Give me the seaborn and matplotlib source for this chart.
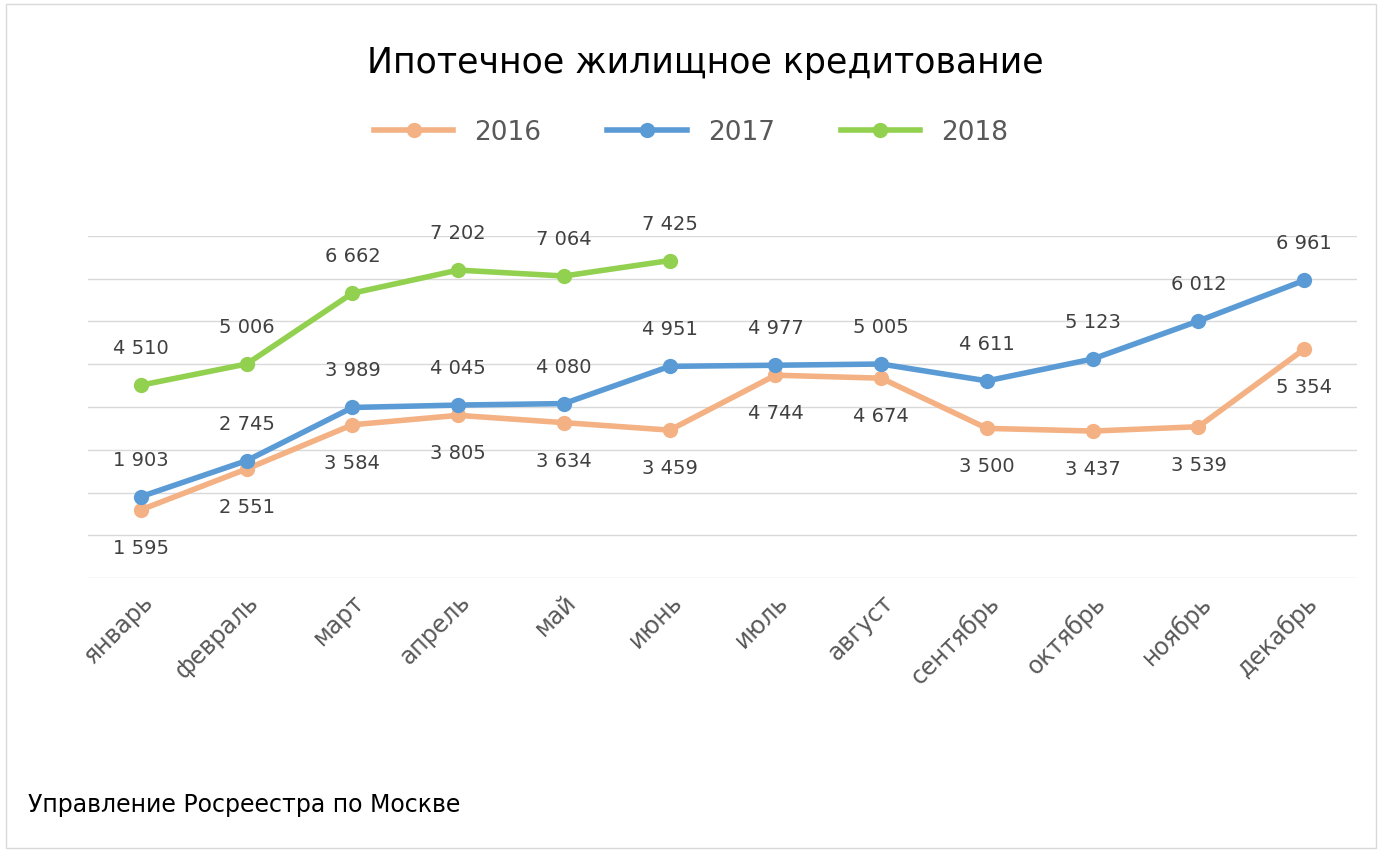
import matplotlib
matplotlib.use("Agg")
import matplotlib.pyplot as plt
import seaborn as sns
import pandas as pd
from matplotlib.patches import Rectangle

months = ["январь","февраль","март","апрель","май","июнь","июль","август","сентябрь","октябрь","ноябрь","декабрь"]
v2016 = [1595,2551,3584,3805,3634,3459,4744,4674,3500,3437,3539,5354]
v2017 = [1903,2745,3989,4045,4080,4951,4977,5005,4611,5123,6012,6961]
v2018 = [4510,5006,6662,7202,7064,7425]
series = {"2016": v2016, "2017": v2017, "2018": v2018}
colors = {"2016": "#F4B183", "2017": "#5B9BD5", "2018": "#92D050"}
label_pos = {"2016": -1, "2017": 1, "2018": 1}

rows = []
for s, vals in series.items():
    for i, v in enumerate(vals):
        rows.append({"idx": i, "value": v, "year": s})
df = pd.DataFrame(rows)

fig = plt.figure(figsize=(13.82, 8.54), dpi=100)
fig.patches.append(Rectangle((0.004, 0.006), 0.992, 0.988, transform=fig.transFigure,
                             fill=False, edgecolor="#D9D9D9", linewidth=1))
ax = fig.add_axes([0.0637, 0.322, 0.9183, 0.4005])
sns.lineplot(data=df, x="idx", y="value", hue="year", palette=colors, ax=ax,
             marker="o", markersize=11, markeredgewidth=0, linewidth=4, legend=False)
ax.set_xlim(-0.5, 11.5)
ax.set_ylim(0, 8000)
ax.set_yticks(range(0, 8001, 1000))
ax.yaxis.grid(True, color="#D9D9D9", linewidth=1)
ax.set_axisbelow(True)
ax.tick_params(axis="y", length=0, labelleft=False)
ax.set_xticks(range(12))
ax.set_xticklabels(months, rotation=45, ha="right", rotation_mode="anchor",
                   fontsize=17, color="#595959")
ax.tick_params(axis="x", length=0, pad=8)
for sp in ax.spines.values():
    sp.set_visible(False)
ax.set_xlabel(""); ax.set_ylabel("")

for s, vals in series.items():
    for i, v in enumerate(vals):
        txt = f"{v:,}".replace(",", " ")
        ax.annotate(txt, (i, v), xytext=(0, 27 * label_pos[s]), textcoords="offset points",
                    ha="center", va="center", fontsize=14, color="#404040")

fig.text(0.51, 0.926, "Ипотечное жилищное кредитование", ha="center", va="center",
         fontsize=25, color="black")
handles = [plt.Line2D([], [], color=colors[s], marker="o", markersize=11, linewidth=4,
                      markeredgewidth=0) for s in series]
fig.legend(handles, list(series), loc="center", bbox_to_anchor=(0.5, 0.844), ncol=3,
           frameon=False, fontsize=19, handlelength=3, columnspacing=2.5,
           labelcolor="#595959")
fig.text(0.02, 0.057, "Управление Росреестра по Москве", ha="left", va="center",
         fontsize=17, color="black")
fig.savefig("out.png", dpi=100)
